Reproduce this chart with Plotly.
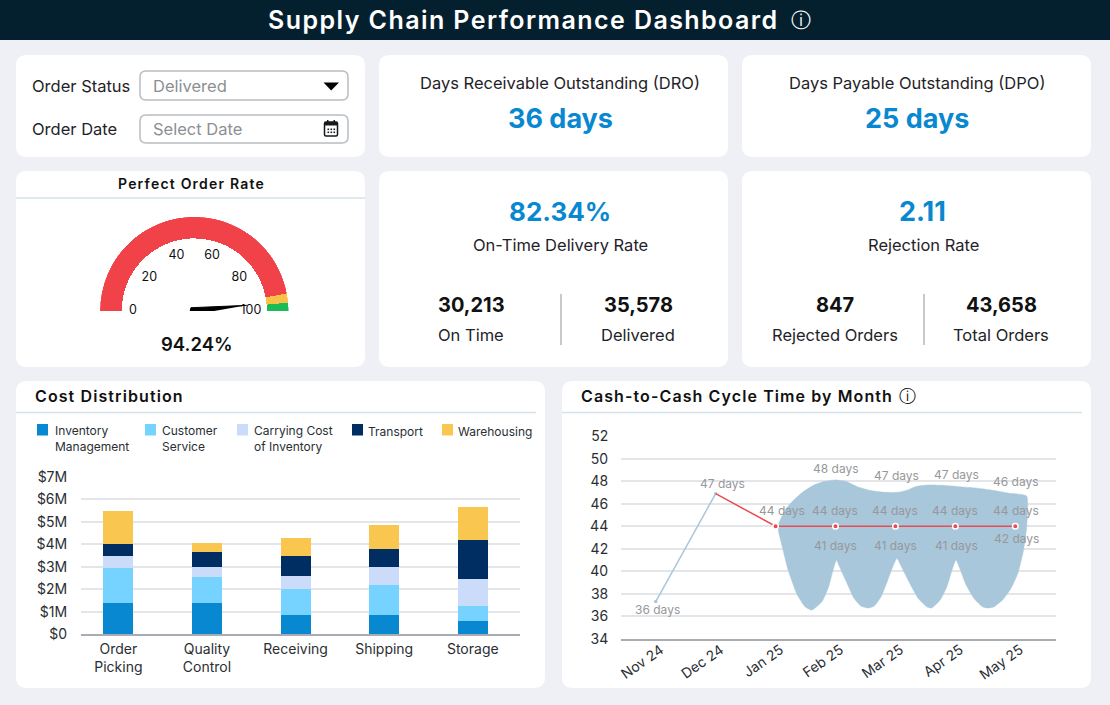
import plotly.graph_objects as go

W, H = 1110, 705

# cost distribution ($M)
stages = ["Order<br>Picking", "Quality<br>Control", "Receiving", "Shipping", "Storage"]
inventory_mgmt = [1.39, 1.39, 0.86, 0.86, 0.59]
customer_service = [1.54, 1.14, 1.14, 1.33, 0.67]
carrying_cost = [0.53, 0.46, 0.59, 0.80, 1.20]
transport = [0.53, 0.66, 0.87, 0.80, 1.73]
warehousing = [1.47, 0.40, 0.80, 1.06, 1.46]
cost_ticks = [0, 1, 2, 3, 4, 5, 6, 7]
cost_tick_labels = ["$0", "$1M", "$2M", "$3M", "$4M", "$5M", "$6M", "$7M"]

# cash-to-cash
months = ["Nov 24", "Dec 24", "Jan 25", "Feb 25", "Mar 25", "Apr 25", "May 25"]
cycle_days = [37.3, 46.9, 44, 44, 44, 44, 44]
cycle_labels = ["36 days", "47 days", "44 days", "44 days", "44 days", "44 days", "44 days"]
high_days = [48.0, 47.0, 47.5, 46.7]
high_labels = ["48 days", "47 days", "47 days", "46 days"]
low_days = [41.0, 41.1, 41.0, 42.0]
low_labels = ["41 days", "41 days", "41 days", "42 days"]
band_x = [2.04, 2.153, 2.294, 2.463, 2.632, 2.802, 2.999, 3.168, 3.365, 3.591, 3.816, 4.042, 4.211, 4.352,
          4.549, 4.775, 5.056, 5.338, 5.62, 5.902, 6.19, 6.19, 6.172, 6.127, 6.043, 5.93, 5.789, 5.648,
          5.552, 5.451, 5.31, 5.169, 5.085, 5.011, 4.944, 4.859, 4.746, 4.605, 4.521, 4.38, 4.211, 4.098,
          4.025, 3.957, 3.873, 3.76, 3.647, 3.546, 3.422, 3.309, 3.168, 3.055, 3.016, 2.959, 2.886, 2.773,
          2.604, 2.492, 2.351, 2.21, 2.097, 2.04]
band_y = [43.96, 45.39, 46.28, 47.08, 47.64, 47.97, 48.12, 48.0, 47.52, 47.17, 47.02, 47.02, 47.23, 47.55,
          47.67, 47.64, 47.52, 47.4, 47.2, 46.93, 46.69, 43.96, 43.07, 41.59, 39.81, 38.48, 37.44, 36.85,
          36.73, 36.85, 37.59, 38.92, 40.11, 41.0, 40.11, 38.63, 37.44, 36.73, 36.85, 37.59, 39.22, 40.41,
          41.15, 40.41, 39.22, 37.74, 36.91, 36.73, 36.91, 37.59, 39.22, 40.55, 41.0, 40.11, 38.63, 37.29,
          36.55, 36.85, 38.03, 40.11, 42.48, 43.96]

# gauge
gauge_stops = [0, 94, 97.2, 100]
gauge_colors = ["#f04248", "#f9c04a", "#1dbb55"]
gauge_ticks = [0, 20, 40, 60, 80, 100]
needle_value = 96.6

BLUE = "#0788d0"
INK = "#1f2328"
FONT = "Inter, sans-serif"


def fx(x):
    return x / W


def fy(y):
    return 1 - y / H


def spaced(text, px):
    return f'<span style="letter-spacing:{px}px">{text}</span>'


shapes = []
notes = []


def rounded(x0, y0, x1, y1, r, fill="white", line=None, width=0):
    p = (f"M {fx(x0 + r)} {fy(y0)} L {fx(x1 - r)} {fy(y0)} "
         f"Q {fx(x1)} {fy(y0)} {fx(x1)} {fy(y0 + r)} L {fx(x1)} {fy(y1 - r)} "
         f"Q {fx(x1)} {fy(y1)} {fx(x1 - r)} {fy(y1)} L {fx(x0 + r)} {fy(y1)} "
         f"Q {fx(x0)} {fy(y1)} {fx(x0)} {fy(y1 - r)} L {fx(x0)} {fy(y0 + r)} "
         f"Q {fx(x0)} {fy(y0)} {fx(x0 + r)} {fy(y0)} Z")
    shapes.append(dict(type="path", xref="paper", yref="paper", path=p, fillcolor=fill, layer="below",
                       line=dict(color=line or "rgba(0,0,0,0)", width=width)))


def rule(x0, y0, x1, y1, color="#d5e3e9", width=1.5):
    shapes.append(dict(type="line", xref="paper", yref="paper", x0=fx(x0), y0=fy(y0), x1=fx(x1), y1=fy(y1),
                       layer="below", line=dict(color=color, width=width)))


def box(x0, y0, x1, y1, fill):
    shapes.append(dict(type="rect", xref="paper", yref="paper", x0=fx(x0), y0=fy(y0), x1=fx(x1), y1=fy(y1),
                       layer="below", fillcolor=fill, line=dict(width=0)))


def label(x, y, text, size=16.5, color=INK, weight=400, anchor="center", align=None, family=FONT):
    # annotations carry about 2px of padding on the anchored side
    if anchor == "left":
        x -= 2
    notes.append(dict(xref="paper", yref="paper", x=fx(x), y=fy(y), text=text, showarrow=False,
                      xanchor=anchor, yanchor="middle", align=align or anchor,
                      font=dict(family=family, size=size, color=color, weight=weight)))


# header and cards
box(0, 0, W, 40, "#04202e")
for card in [(16, 55, 365, 157), (379, 55, 728, 157), (742, 55, 1091, 157),
             (16, 171, 365, 367), (379, 171, 728, 367), (742, 171, 1091, 367),
             (16, 381, 545, 688), (562, 381, 1091, 688)]:
    rounded(*card, 11)
rule(16, 198, 365, 198)
rule(16, 412.5, 536, 412.5)
rule(562, 412.5, 1082, 412.5)
rule(561, 294, 561, 345, "#b4b8bd")
rule(924, 294, 924, 345, "#b4b8bd")

label(523, 20, spaced("Supply Chain Performance Dashboard", 1.43), 25, "white", 600)
label(801, 20, "ⓘ", 20, "white", family="DejaVu Sans")

# filters
label(32, 86, "Order Status", anchor="left")
label(32, 129, "Order Date", anchor="left")
rounded(140, 71, 348, 100, 6, "white", "#b9bdc1", 1.5)
rounded(140, 115, 348, 143, 6, "white", "#b9bdc1", 1.5)
label(153, 86, "Delivered", color="#8c8f93", anchor="left")
label(153, 129, "Select Date", color="#8c8f93", anchor="left")
shapes.append(dict(type="path", xref="paper", yref="paper", fillcolor="black", line=dict(width=0), layer="below",
                   path=f"M {fx(323.5)} {fy(82.5)} L {fx(339)} {fy(82.5)} L {fx(331.2)} {fy(90.5)} Z"))
rounded(324.5, 122, 337.5, 136, 1.5, "white", "#16191c", 1.5)
box(324.5, 122, 337.5, 125.5, "#16191c")
box(327, 120, 328.5, 123, "#16191c")
box(333.5, 120, 335, 123, "#16191c")
for cx in (327.5, 330.5, 333.5):
    for cy in (128.5, 131.5):
        box(cx, cy, cx + 1.6, cy + 1.6, "#16191c")

# kpi cards
label(560, 83, "Days Receivable Outstanding (DRO)")
label(560, 118, "36 days", 27, BLUE, 700)
label(917, 83, "Days Payable Outstanding (DPO)")
label(917, 118, "25 days", 27, BLUE, 700)
label(560, 211, "82.34%", 26, BLUE, 700)
label(560, 245, "On-Time Delivery Rate")
label(471, 305, "30,213", 20, "#111", 700)
label(471, 335, "On Time")
label(638, 305, "35,578", 20, "#111", 700)
label(638, 335, "Delivered")
label(922, 211, "2.11", 27, BLUE, 700)
label(923, 245, "Rejection Rate")
label(835, 305, "847", 20, "#111", 700)
label(835, 335, "Rejected Orders")
label(1001, 305, "43,658", 20, "#111", 700)
label(1001, 335, "Total Orders")
label(191, 184, spaced("Perfect Order Rate", 1.2), 14, "#111", 600)
label(197, 344, "94.24%", 18.5, "#111", 600)
label(35, 396, spaced("Cost Distribution", 1.1), 16, "#111", 600, "left")
label(581, 396, spaced("Cash-to-Cash Cycle Time by Month", 1.1), 16, "#111", 600, "left")
label(907, 396, "ⓘ", 17, "#111", family="DejaVu Sans")

fig = go.Figure()

# gauge, left end of the dial is 0 and the right end 100
for lo, hi, col in zip(gauge_stops[:-1], gauge_stops[1:], gauge_colors):
    fig.add_trace(go.Barpolar(r=[0.23], base=[0.77], theta=[(lo + hi) / 2 * 1.8], width=[(hi - lo) * 1.8],
                              marker=dict(color=col, line=dict(width=0)), subplot="polar", hoverinfo="skip"))
fig.add_trace(go.Scatterpolar(r=[0.65, 0.59, 0.61, 0.61, 0.59, 0.6], theta=[v * 1.8 for v in gauge_ticks],
                              text=[str(v) for v in gauge_ticks], mode="text", cliponaxis=False,
                              textfont=dict(family=FONT, size=12.5, color="#111"), subplot="polar"))
needle_angle = needle_value * 1.8
fig.add_trace(go.Scatterpolar(r=[0.56, 0.05, 0.045, 0.05], theta=[needle_angle, needle_angle + 230, needle_angle + 180, needle_angle + 130],
                              mode="lines", fill="toself", fillcolor="black", cliponaxis=False,
                              line=dict(color="black", width=1), subplot="polar"))

# stacked cost bars
cost_series = [("Inventory Management", inventory_mgmt, "#0788d0"), ("Customer Service", customer_service, "#76d3ff"),
               ("Carrying Cost of Inventory", carrying_cost, "#cbdcfb"), ("Transport", transport, "#002d62"),
               ("Warehousing", warehousing, "#f9c74f")]
for name, vals, col in cost_series:
    fig.add_trace(go.Bar(x=list(range(len(stages))), y=vals, name=name, marker=dict(color=col, line=dict(width=0)),
                         xaxis="x", yaxis="y"))

legend_items = [(37, 54.5, "Inventory<br>Management"), (145, 162, "Customer<br>Service"),
                (237, 253.5, "Carrying Cost<br>of Inventory"), (352, 368, "Transport"), (442, 458, "Warehousing")]
for (swatch_x, text_x, text), (_, _, col) in zip(legend_items, cost_series):
    box(swatch_x, 424, swatch_x + 11, 435.5, col)
    label(text_x, 438.5 if "<br>" in text else 431, text, 12, "#2a2e33", anchor="left")

# cash-to-cash band and lines
month_idx = list(range(len(months)))
fig.add_trace(go.Scatter(x=band_x, y=band_y, mode="lines", fill="toself", fillcolor="#a9c7da",
                         line=dict(color="#a9c7da", width=0.5, shape="spline", smoothing=0.5),
                         xaxis="x2", yaxis="y2", hoverinfo="skip"))
fig.add_trace(go.Scatter(x=month_idx[:2], y=cycle_days[:2], mode="lines+markers", line=dict(color="#a9c7da", width=1.5),
                         marker=dict(size=3.5, color="#a9c7da"), xaxis="x2", yaxis="y2"))
fig.add_trace(go.Scatter(x=month_idx[1:], y=cycle_days[1:], mode="lines", line=dict(color="#ea4a50", width=1.5),
                         xaxis="x2", yaxis="y2"))
fig.add_trace(go.Scatter(x=month_idx[2:], y=cycle_days[2:], mode="markers",
                         marker=dict(size=5.5, color="#ea4a50", line=dict(color="white", width=1.5)),
                         xaxis="x2", yaxis="y2"))

GREY = "#96989b"


def day_notes(xs, ys, texts, shifts, xshifts=None):
    for i, (x, y, t, s) in enumerate(zip(xs, ys, texts, shifts)):
        notes.append(dict(xref="x2", yref="y2", x=x, y=y, text=t, showarrow=False, yshift=s,
                          xshift=xshifts[i] if xshifts else 0, font=dict(family=FONT, size=12, color=GREY)))


day_notes(month_idx, cycle_days, cycle_labels, [-8, 10, 16, 16, 16, 16, 16], [2, 7, 6, 0, 0, 0, 1])
day_notes(month_idx[3:], high_days, high_labels, [13, 17, 12, 14], [1, 1, 1, 1])
day_notes(month_idx[3:], low_days, low_labels, [14, 13, 14, 10], [0, 0, 1, 1])

fig.update_layout(
    width=W, height=H, margin=dict(l=0, r=0, t=0, b=0), autosize=False,
    paper_bgcolor="#eef0f5", plot_bgcolor="rgba(0,0,0,0)",
    barmode="stack", bargap=0.66, showlegend=False, hovermode=False,
    font=dict(family=FONT, color=INK),
    shapes=shapes, annotations=notes,
    polar=dict(
        domain=dict(x=[fx(100), fx(288.6)], y=[fy(311), fy(216.7)]),
        sector=[0, 180], bgcolor="rgba(0,0,0,0)",
        radialaxis=dict(range=[0, 1], visible=False),
        angularaxis=dict(rotation=180, direction="clockwise", visible=False),
    ),
    xaxis=dict(domain=[fx(81), fx(520)], range=[-0.422, 4.533], tickvals=list(range(len(stages))), ticktext=stages,
               showgrid=False, zeroline=False, showline=True, linecolor="#a9adb3", linewidth=1.5, automargin=False,
               ticks="outside", ticklen=1, tickcolor="rgba(0,0,0,0)", tickfont=dict(size=14, color="#2a2e33")),
    yaxis=dict(domain=[fy(634.3), fy(476.7)], range=[0, 7], tickvals=cost_ticks, ticktext=cost_tick_labels,
               gridcolor="#e3e5e9", gridwidth=1.5, zeroline=False, automargin=False,
               ticks="outside", ticklen=10, tickcolor="rgba(0,0,0,0)", tickfont=dict(size=14, color="#2a2e33")),
    xaxis2=dict(domain=[fx(621), fx(1056)], range=[-0.58, 6.68], tickvals=month_idx, ticktext=months, tickangle=-35,
                showgrid=False, zeroline=False, showline=True, linecolor="#a9adb3", linewidth=1.5, automargin=False,
                ticks="outside", ticklen=1, tickcolor="rgba(0,0,0,0)", tickfont=dict(size=14, color="#2a2e33"),
                ticklabelstandoff=-5, ticklabelshift=5, anchor="y2"),
    yaxis2=dict(domain=[fy(638.7), fy(436.3)], range=[34, 52], dtick=2,
                gridcolor="#e3e5e9", gridwidth=1.5, zeroline=False, automargin=False,
                ticks="outside", ticklen=9, tickcolor="rgba(0,0,0,0)", tickfont=dict(size=14, color="#2a2e33"),
                anchor="x2"),
)

fig.write_html("out.html", config={"displayModeBar": False}, post_script="document.body.style.margin='0';")
